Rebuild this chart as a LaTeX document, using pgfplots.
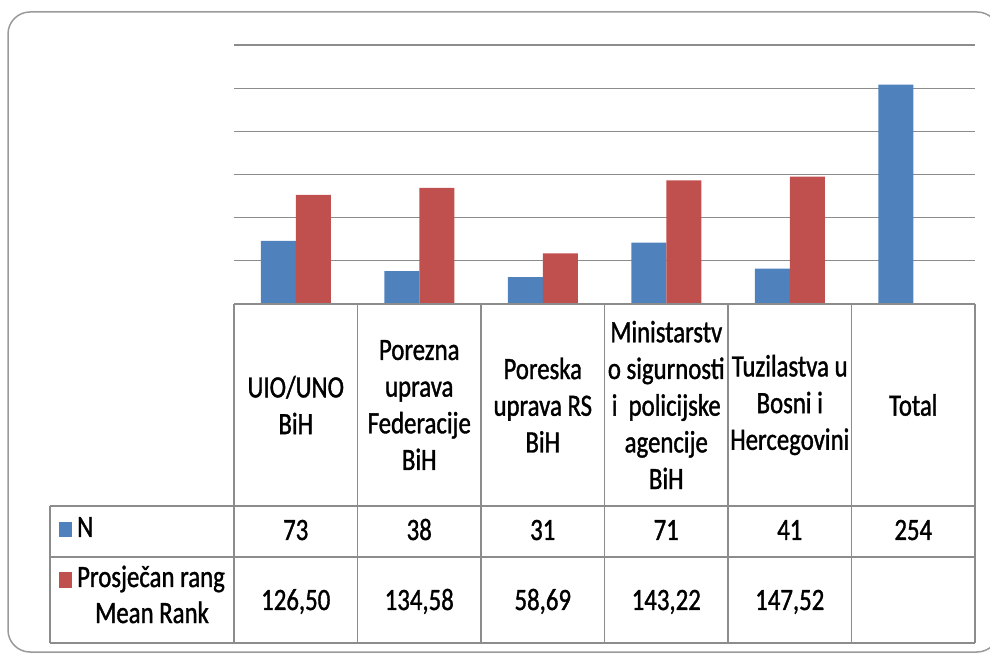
\documentclass[border=0pt]{standalone}
\usepackage{fontspec}
\setmainfont{Carlito}[FakeStretch=0.8, FakeBold=1.2]
\usepackage{pgfplots}
\pgfplotsset{compat=1.18}
\definecolor{barblue}{HTML}{4F81BD}
\definecolor{barred}{HTML}{C0504D}
\definecolor{gridgray}{HTML}{8C8C8C}
\definecolor{framegray}{HTML}{9A9A9A}
\newcommand\tfont{\fontsize{31}{36.7}\selectfont}

\begin{document}
\begin{tikzpicture}[x=1pt,y=1pt]
\useasboundingbox (0,0) rectangle (990,653);
\begin{scope}
  \clip (0,0) rectangle (990,653);
  \draw[framegray, line width=1.5pt, rounded corners=22pt] (8,1) rectangle (999,641);
\end{scope}

\begin{axis}[
  at={(234pt,349pt)}, anchor=south west,
  scale only axis, width=741pt, height=259pt,
  xmin=-0.5, xmax=5.5, ymin=0, ymax=300,
  ytick={50,100,...,300}, yticklabels={}, xtick=\empty,
  ymajorgrids, grid style={gridgray, line width=1.3pt},
  axis line style={draw=none}, major tick length=0pt,
  ybar=0pt, bar width=35pt,
  clip=false,
]
% N
\addplot[fill=barblue, draw=none] coordinates {(0,73) (1,38) (2,31) (3,71) (4,41) (5,254)};
% Prosjecan rang / Mean Rank
\addplot[fill=barred, draw=none] coordinates {(0,126.50) (1,134.58) (2,58.69) (3,143.22) (4,147.52)};
\end{axis}

% data table
\begin{scope}[gridgray, line width=1.5pt]
  \draw (234,349) -- (975,349);
  \draw (50,147) -- (975,147);
  \draw (50,96) -- (975,96);
  \draw (50,10) -- (975,10);
  \draw (50,147) -- (50,10);
  \foreach \x in {234,357.5,481,604.5,728,851.5,975}
    \draw (\x,349) -- (\x,10);
\end{scope}

\begin{scope}[every node/.style={font=\tfont, inner sep=0pt, align=center}]
  \node at (295.75,248) {UIO/UNO\\BiH};
  \node at (419.25,248) {Porezna\\uprava\\Federacije\\BiH};
  \node at (542.75,248) {Poreska\\uprava RS\\BiH};
  \node at (666.25,248) {Ministarstv\\o sigurnosti\\i\ \ policijske\\agencije\\BiH};
  \node at (789.75,248) {Tuzilastva u\\Bosni i\\Hercegovini};
  \node at (913.25,248) {Total};

  \fill[barblue] (59,116) rectangle (72,131);
  \node[anchor=base west] at (77,116) {N};
  \fill[barred] (59,65) rectangle (72,81);
  \node[anchor=base west] at (77,66) {Prosječan rang};
  \node[anchor=base] at (152,30) {Mean Rank};

  \node[anchor=base] at (295.75,113) {73};
  \node[anchor=base] at (419.25,113) {38};
  \node[anchor=base] at (542.75,113) {31};
  \node[anchor=base] at (666.25,113) {71};
  \node[anchor=base] at (789.75,113) {41};
  \node[anchor=base] at (913.25,113) {254};

  \node[anchor=base] at (295.75,43) {126,50};
  \node[anchor=base] at (419.25,43) {134,58};
  \node[anchor=base] at (542.75,43) {58,69};
  \node[anchor=base] at (666.25,43) {143,22};
  \node[anchor=base] at (789.75,43) {147,52};
\end{scope}
\end{tikzpicture}
\end{document}
